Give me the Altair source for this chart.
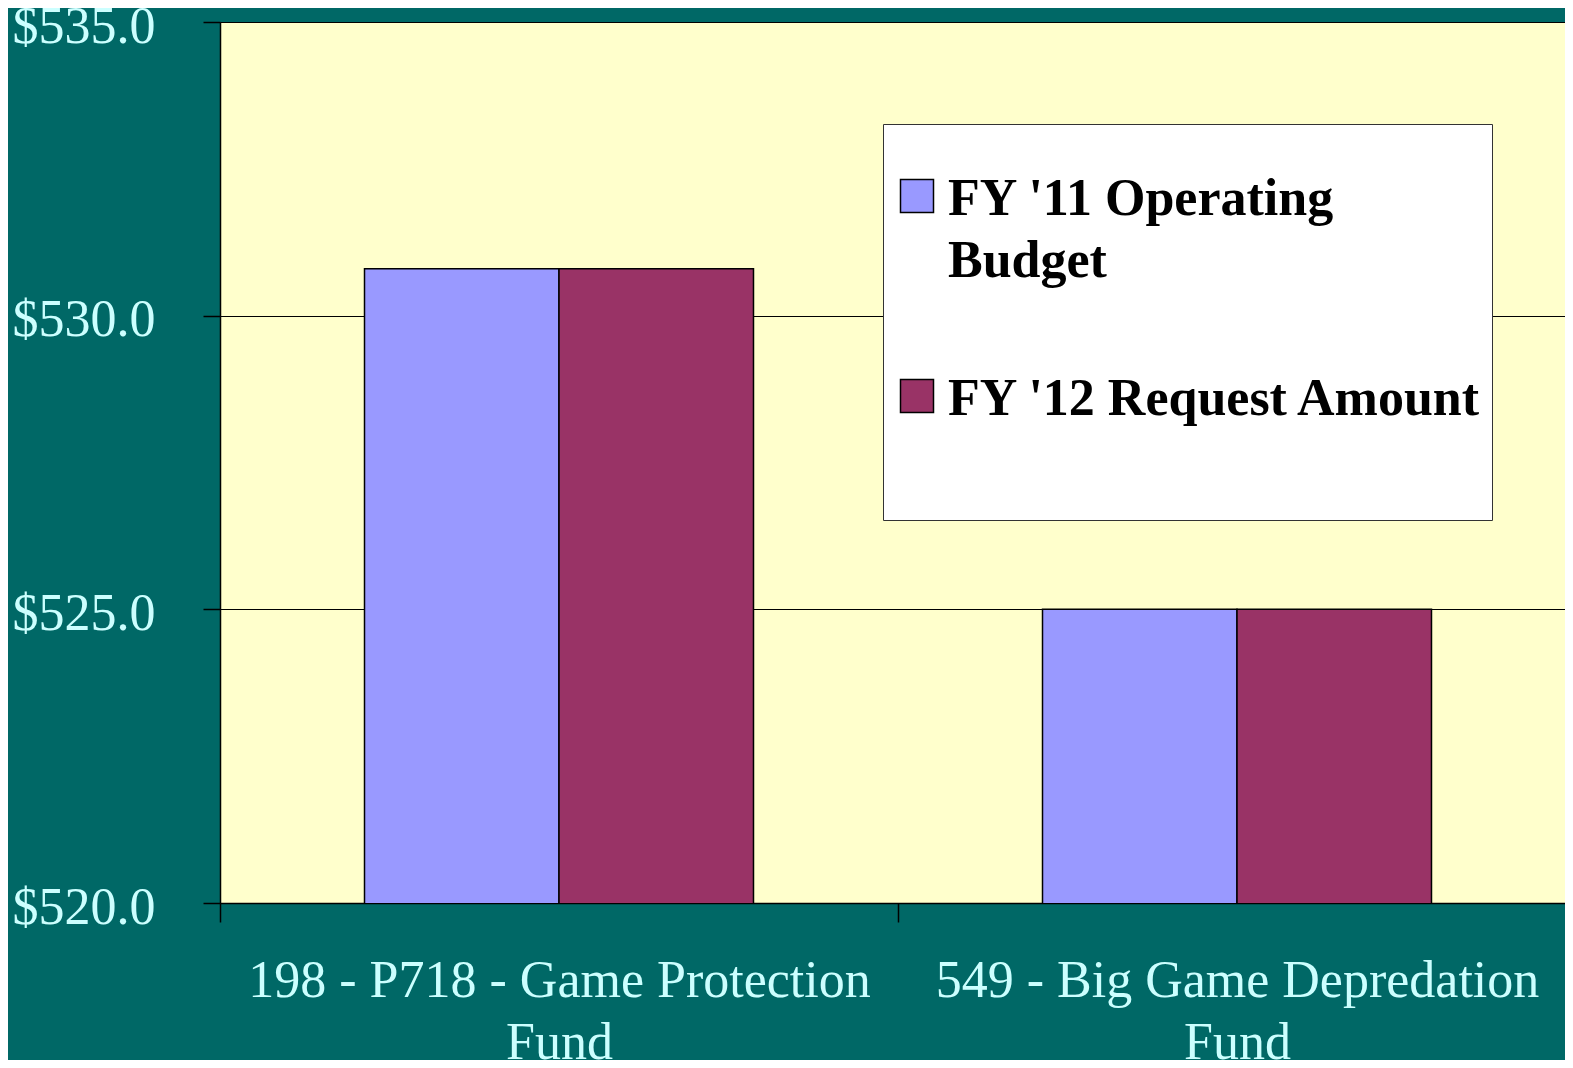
import altair as alt
import pandas as pd

funds = ["198 - P718 - Game Protection Fund", "549 - Big Game Depredation Fund"]
series = ["FY '11 Operating Budget", "FY '12 Request Amount"]
fy11 = [530.8, 525.0]
fy12 = [530.8, 525.0]
y_ticks = [520, 525, 530, 535]
colors = ["#9999FF", "#993366"]

rows = []
for f, a, b in zip(funds, fy11, fy12):
    rows.append({"fund": f, "series": series[0], "value": a})
    rows.append({"fund": f, "series": series[1], "value": b})
df = pd.DataFrame(rows)

label_color = "#CCFFFF"
font = "Liberation Serif"
# square legend swatch, raised so it sits beside the first text line;
# the trailing move-to only reserves room below each entry
swatch = "M-1,-2.15H1V-0.15H-1ZM0,5.64"

chart = alt.Chart(df).mark_bar(clip=True, stroke="black", strokeWidth=1.5).encode(
    x=alt.X(
        "fund:N",
        sort=funds,
        title=None,
        scale=alt.Scale(paddingInner=0, paddingOuter=0),
        axis=alt.Axis(
            labelAngle=0,
            labelFont=font,
            labelFontSize=52,
            labelColor=label_color,
            labelLineHeight=62,
            labelPadding=33,
            labelLimit=0,
            labelExpr="[slice(datum.label, 0, lastindexof(datum.label, ' ')), slice(datum.label, lastindexof(datum.label, ' ') + 1)]",
            tickBand="extent",
            tickSize=19,
            tickColor="black",
            tickWidth=1.5,
            domainColor="black",
            domainWidth=1.5,
            grid=False,
        ),
    ),
    xOffset=alt.XOffset("series:N", sort=series,
                        scale=alt.Scale(paddingInner=0, paddingOuter=0.743)),
    y=alt.Y(
        "value:Q",
        title=None,
        scale=alt.Scale(domain=[520, 535], zero=False, nice=False),
        axis=alt.Axis(
            values=y_ticks,
            format="$.1f",
            labelFont=font,
            labelFontSize=52,
            labelColor=label_color,
            labelPadding=48,
            labelOffset=4,
            tickSize=17,
            tickColor="black",
            tickWidth=1.5,
            domainColor="black",
            domainWidth=1.5,
            gridColor="black",
            gridWidth=1,
        ),
    ),
    color=alt.Color(
        "series:N",
        sort=series,
        scale=alt.Scale(domain=series, range=colors),
        legend=alt.Legend(
            title=" ",
            titleFontSize=10,
            titlePadding=47,
            orient="none",
            legendX=663,
            legendY=102,
            fillColor="white",
            strokeColor="#333333",
            padding=8,
            symbolType=swatch,
            symbolSize=1089,
            symbolStrokeColor="black",
            symbolStrokeWidth=1.5,
            symbolOpacity=1,
            labelFont=font,
            labelFontWeight="bold",
            labelFontSize=52,
            labelColor="black",
            labelBaseline="alphabetic",
            labelLimit=800,
            labelOffset=5,
            rowPadding=61,
            labelExpr="length(datum.label) > 22 ? [slice(datum.label, 0, lastindexof(datum.label, ' ')), slice(datum.label, lastindexof(datum.label, ' ') + 1)] : datum.label",
        ),
    ),
).properties(
    width=1356,
    height=881,
    background="#006866",
    padding={"left": 212, "top": 14, "right": -11, "bottom": 157},
    autosize=alt.AutoSizeParams(type="none"),
).configure(
    style={"guide-label": {"lineHeight": 62}},
).configure_view(
    fill="#FFFFCC",
    stroke="#404040",
    strokeWidth=1,
)

chart.save("out.html", embed_options={"renderer": "svg", "actions": False})
